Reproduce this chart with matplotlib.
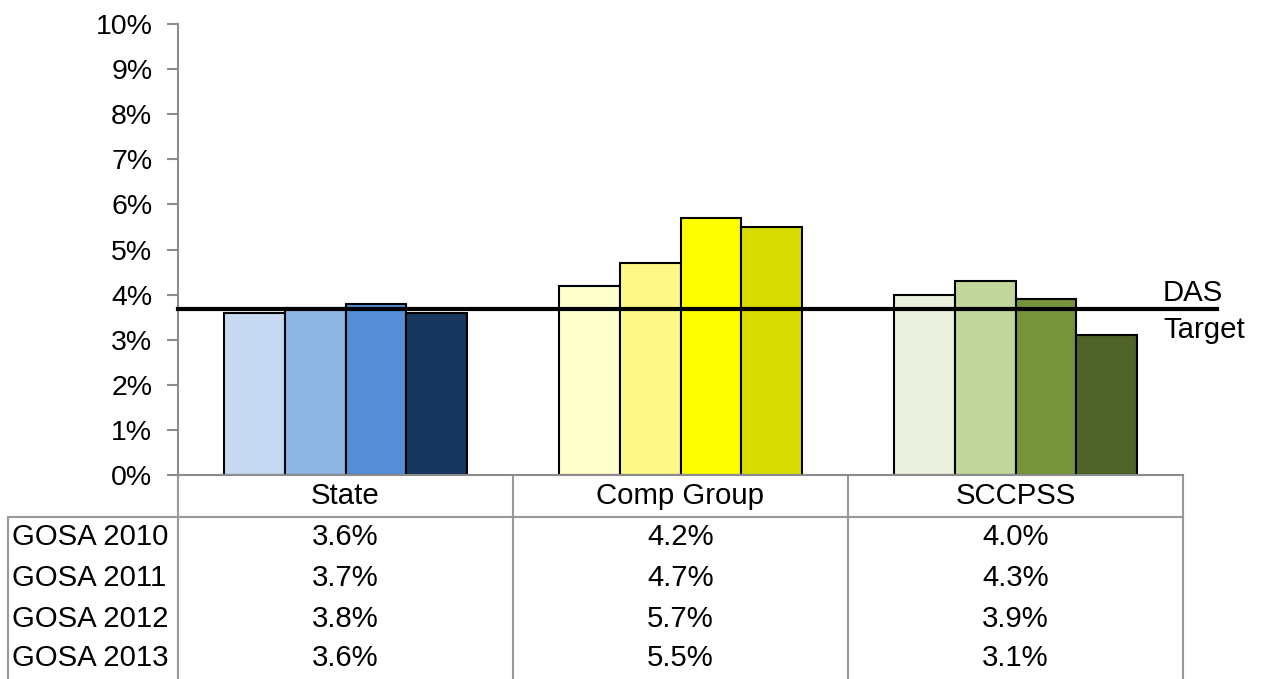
import numpy as np
import matplotlib.pyplot as plt

plt.rcParams['font.family'] = ['Liberation Sans', 'DejaVu Sans']

groups = ["State", "Comp Group", "SCCPSS"]
series = ["GOSA 2010", "GOSA 2011", "GOSA 2012", "GOSA 2013"]
state = [3.6, 3.7, 3.8, 3.6]
comp_group = [4.2, 4.7, 5.7, 5.5]
sccpss = [4.0, 4.3, 3.9, 3.1]
das_target = 3.68

values = np.array([state, comp_group, sccpss])  # groups x series

group_colors = [
    ["#C6D9F1", "#8EB4E3", "#558ED5", "#17375E"],
    ["#FFFFCC", "#FDF986", "#FFFF00", "#D9DC00"],
    ["#EBF1DE", "#C3D69B", "#77933C", "#4F6228"],
]

FS = 20.5
FS_TAB = 21.2
W, H = 1269, 679
fig = plt.figure(figsize=(W / 100, H / 100), dpi=100)

# table drawn in pixel coordinates on a background axes
tab = fig.add_axes([0, 0, 1, 1])
tab.set_xlim(0, W)
tab.set_ylim(H, 0)
tab.axis("off")

x0, x1 = 178, 1183
y_base, y_top = 475, 24
ax = fig.add_axes([x0 / W, 1 - y_base / H, (x1 - x0) / W, (y_base - y_top) / H])

bar_w = 0.182
x = np.arange(len(groups))
for i, grp in enumerate(groups):
    for j in range(len(series)):
        off = (j - 1.5) * bar_w
        ax.bar(x[i] + off, values[i, j], width=bar_w, color=group_colors[i][j],
               edgecolor="black", linewidth=1.5, zorder=2)

ax.plot([-0.5, 2.6], [das_target, das_target], color="black", lw=3,
        clip_on=False, zorder=3)
ax.text(2.44, das_target + 0.36, "DAS", fontsize=FS_TAB, va="center", ha="left")
ax.text(2.44, das_target - 0.47, "Target", fontsize=FS_TAB, va="center", ha="left")

ax.set_xlim(-0.5, 2.5)
ax.set_ylim(0, 10)
ax.set_yticks(range(0, 11))
ax.set_yticklabels([f"{t}%" for t in range(0, 11)], fontsize=FS)
ax.set_xticks([])
for s in ["top", "right"]:
    ax.spines[s].set_visible(False)
ax.spines["left"].set_color("#8C8C8C")
ax.spines["bottom"].set_color("#8C8C8C")
ax.spines["left"].set_linewidth(1.5)
ax.spines["bottom"].set_linewidth(1.5)
ax.tick_params(axis="y", length=8, width=1.5, color="#8C8C8C", pad=10.5)
ax.patch.set_alpha(0)

# table grid
gc = "#999999"
col_w = (x1 - x0) / len(groups)
for k in range(len(groups) + 1):
    xv = x0 + k * col_w
    tab.plot([xv, xv], [y_base, H], color=gc, lw=1.5)
tab.plot([8, x1], [517, 517], color=gc, lw=1.5)
tab.plot([8, 8], [517, H], color=gc, lw=1.5)

for k, grp in enumerate(groups):
    tab.text(x0 + (k + 0.5) * col_w, 496, grp, fontsize=FS_TAB, ha="center", va="center")

row_y = [537, 578, 619, 658]
for r, name in enumerate(series):
    tab.text(12, row_y[r], name, fontsize=FS_TAB, ha="left", va="center")
    for k in range(len(groups)):
        tab.text(x0 + (k + 0.5) * col_w, row_y[r], f"{values[k, r]:.1f}%",
                 fontsize=FS_TAB, ha="center", va="center")

fig.savefig("out.png", dpi=100)
